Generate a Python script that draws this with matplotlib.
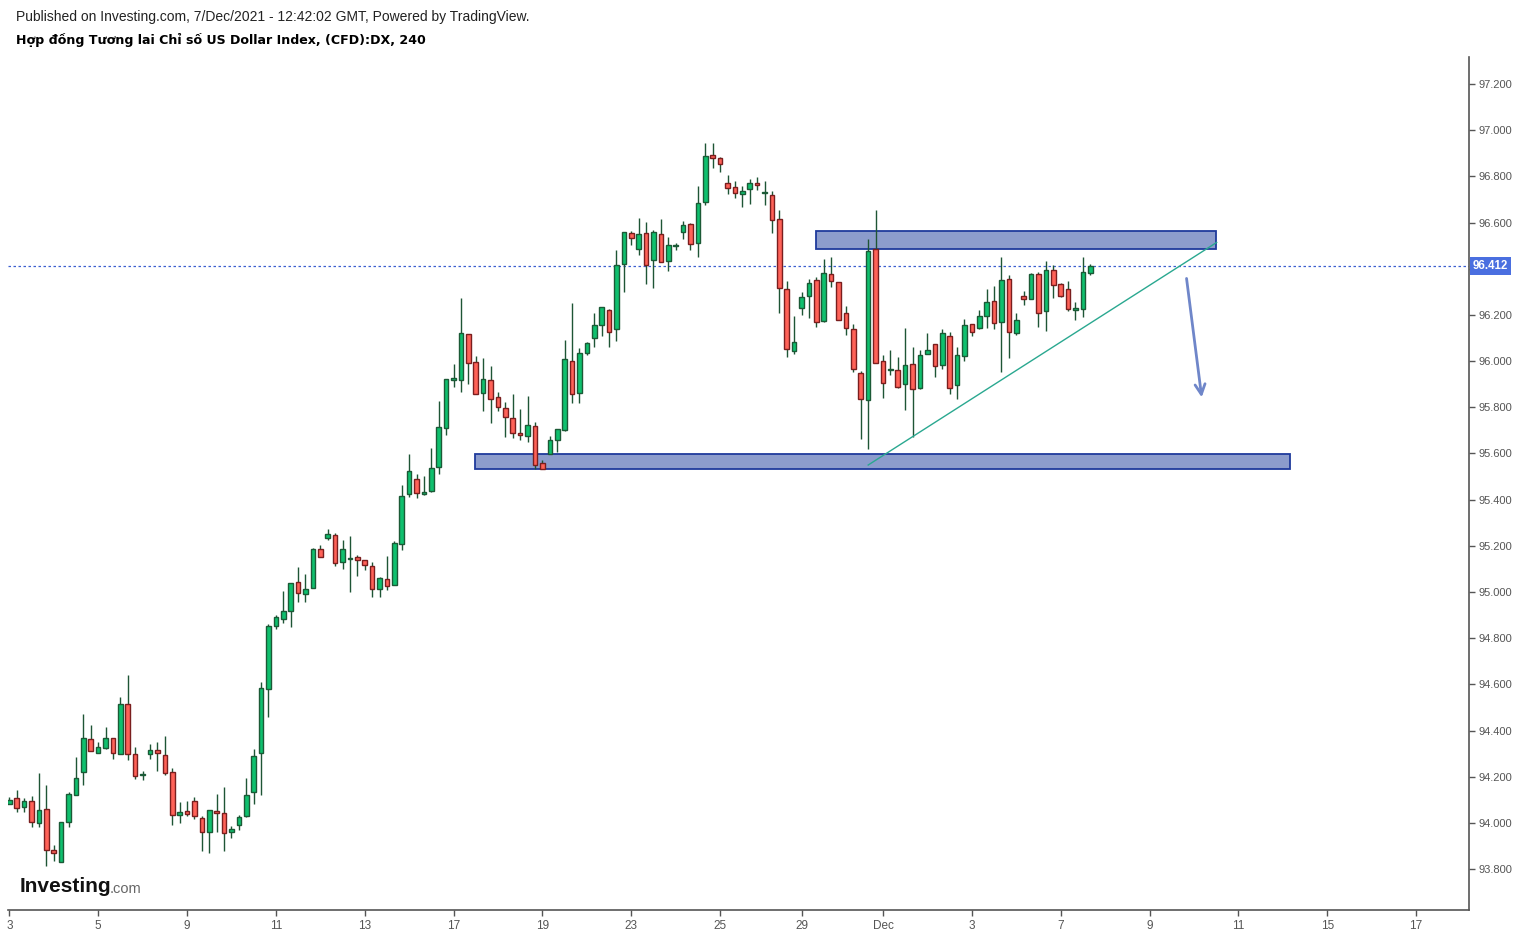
import matplotlib
matplotlib.use("Agg")
import matplotlib.pyplot as plt
from matplotlib.patches import Rectangle
from matplotlib.transforms import blended_transform_factory

# 4h candles, US Dollar Index futures, 3 Nov - 7 Dec 2021
opens = [94.080, 94.106, 94.067, 94.093, 93.998, 94.059, 93.885, 93.829, 94.002, 94.119,
         94.219, 94.362, 94.305, 94.323, 94.366, 94.297, 94.513, 94.297, 94.209, 94.297,
         94.314, 94.293, 94.219, 94.033, 94.050, 94.093, 94.020, 93.960, 94.047, 94.045,
         93.960, 93.990, 94.028, 94.132, 94.301, 94.578, 94.851, 94.882, 94.916, 95.042,
         94.990, 95.016, 95.185, 95.232, 95.245, 95.128, 95.143, 95.150, 95.137, 95.111,
         95.011, 95.055, 95.029, 95.206, 95.423, 95.488, 95.423, 95.436, 95.540, 95.709,
         95.917, 95.917, 96.116, 95.995, 95.860, 95.917, 95.843, 95.795, 95.752, 95.687,
         95.674, 95.717, 95.557, 95.596, 95.657, 95.700, 95.999, 95.860, 96.034, 96.099,
         96.155, 96.220, 96.137, 96.419, 96.553, 96.484, 96.553, 96.436, 96.549, 96.432,
         96.497, 96.558, 96.592, 96.510, 96.687, 96.891, 96.878, 96.770, 96.753, 96.722,
         96.744, 96.770, 96.727, 96.718, 96.614, 96.311, 96.042, 96.228, 96.280, 96.350,
         96.172, 96.376, 96.341, 96.207, 96.138, 95.947, 95.830, 96.484, 95.999, 95.960,
         95.960, 95.899, 95.986, 95.882, 96.029, 96.073, 95.982, 96.107, 95.895, 96.021,
         96.159, 96.142, 96.194, 96.259, 96.168, 96.354, 96.120, 96.280, 96.267, 96.376,
         96.215, 96.393, 96.332, 96.311, 96.223, 96.224, 96.380]
highs = [94.114, 94.142, 94.109, 94.116, 94.215, 94.163, 93.903, 94.005, 94.132, 94.284,
         94.472, 94.422, 94.349, 94.414, 94.366, 94.544, 94.640, 94.331, 94.223, 94.344,
         94.349, 94.375, 94.236, 94.089, 94.093, 94.111, 94.030, 94.058, 94.125, 94.155,
         93.985, 94.033, 94.194, 94.320, 94.610, 94.860, 94.899, 95.004, 95.040, 95.107,
         95.076, 95.189, 95.202, 95.271, 95.254, 95.224, 95.241, 95.159, 95.137, 95.128,
         95.063, 95.154, 95.219, 95.462, 95.596, 95.510, 95.501, 95.622, 95.826, 95.921,
         95.986, 96.272, 96.116, 96.021, 96.012, 95.978, 95.865, 95.821, 95.856, 95.791,
         95.847, 95.735, 95.570, 95.674, 95.705, 96.090, 96.250, 96.055, 96.081, 96.207,
         96.233, 96.224, 96.480, 96.558, 96.562, 96.618, 96.601, 96.566, 96.614, 96.536,
         96.510, 96.605, 96.597, 96.757, 96.943, 96.943, 96.882, 96.804, 96.779, 96.757,
         96.787, 96.796, 96.779, 96.735, 96.653, 96.345, 96.194, 96.298, 96.354, 96.363,
         96.441, 96.449, 96.341, 96.237, 96.159, 95.956, 96.527, 96.653, 96.025, 96.047,
         96.016, 96.142, 96.061, 96.047, 96.120, 96.073, 96.138, 96.125, 96.060, 96.181,
         96.159, 96.220, 96.311, 96.324, 96.449, 96.371, 96.207, 96.302, 96.380, 96.384,
         96.432, 96.415, 96.337, 96.345, 96.254, 96.449, 96.419]
lows = [94.080, 94.048, 94.048, 93.981, 93.981, 93.815, 93.836, 93.829, 93.984, 94.119,
        94.165, 94.310, 94.305, 94.319, 94.278, 94.297, 94.271, 94.189, 94.184, 94.275,
        94.227, 94.206, 93.989, 93.998, 94.028, 94.015, 93.880, 93.870, 93.960, 93.880,
        93.935, 93.970, 94.024, 94.083, 94.122, 94.460, 94.838, 94.864, 94.847, 94.955,
        94.955, 95.016, 95.150, 95.224, 95.111, 95.098, 94.998, 95.068, 95.094, 94.977,
        94.977, 95.007, 95.029, 95.180, 95.410, 95.406, 95.419, 95.432, 95.510, 95.678,
        95.886, 95.865, 95.899, 95.856, 95.782, 95.730, 95.782, 95.673, 95.665, 95.657,
        95.648, 95.531, 95.531, 95.596, 95.605, 95.696, 95.817, 95.817, 96.025, 96.060,
        96.107, 96.060, 96.086, 96.301, 96.501, 96.458, 96.335, 96.318, 96.428, 96.389,
        96.480, 96.527, 96.480, 96.449, 96.674, 96.835, 96.817, 96.722, 96.705, 96.666,
        96.679, 96.739, 96.675, 96.553, 96.207, 96.016, 96.029, 96.198, 96.185, 96.146,
        96.168, 96.319, 96.176, 96.112, 95.951, 95.661, 95.618, 95.990, 95.839, 95.938,
        95.882, 95.787, 95.670, 95.878, 96.029, 95.930, 95.964, 95.856, 95.834, 95.999,
        96.107, 96.138, 96.142, 96.138, 95.951, 96.012, 96.111, 96.241, 96.267, 96.146,
        96.129, 96.272, 96.276, 96.215, 96.176, 96.190, 96.371]
closes = [94.099, 94.063, 94.093, 94.002, 94.054, 93.881, 93.872, 94.002, 94.124, 94.193,
          94.366, 94.310, 94.327, 94.370, 94.301, 94.513, 94.297, 94.202, 94.209, 94.314,
          94.301, 94.215, 94.033, 94.046, 94.037, 94.028, 93.960, 94.054, 94.045, 93.956,
          93.975, 94.025, 94.119, 94.288, 94.583, 94.855, 94.894, 94.920, 95.037, 94.994,
          95.011, 95.185, 95.150, 95.250, 95.124, 95.185, 95.143, 95.137, 95.115, 95.011,
          95.059, 95.024, 95.211, 95.414, 95.523, 95.427, 95.432, 95.536, 95.713, 95.921,
          95.925, 96.120, 95.990, 95.856, 95.921, 95.834, 95.800, 95.756, 95.687, 95.678,
          95.722, 95.548, 95.531, 95.657, 95.705, 96.008, 95.856, 96.034, 96.077, 96.155,
          96.233, 96.124, 96.415, 96.558, 96.532, 96.549, 96.415, 96.558, 96.428, 96.501,
          96.497, 96.588, 96.506, 96.683, 96.887, 96.878, 96.852, 96.748, 96.727, 96.735,
          96.770, 96.761, 96.727, 96.610, 96.315, 96.051, 96.081, 96.276, 96.337, 96.168,
          96.380, 96.345, 96.176, 96.142, 95.964, 95.834, 96.475, 95.990, 95.904, 95.960,
          95.886, 95.982, 95.878, 96.025, 96.047, 95.977, 96.120, 95.882, 96.025, 96.155,
          96.125, 96.194, 96.254, 96.163, 96.350, 96.125, 96.176, 96.267, 96.376, 96.207,
          96.393, 96.328, 96.280, 96.224, 96.223, 96.384, 96.412]

# date labels and the bar index they sit on
date_labels = ["3", "5", "9", "11", "13", "17", "19", "23", "25", "29", "Dec",
               "3", "7", "9", "11", "15", "17"]
date_bars = [0, 12, 24, 36, 48, 60, 72, 84, 96, 107, 118, 130, 142, 154, 166, 178, 190]

last_price = 96.412

# drawn zones: (start bar, end bar, low price, high price)
resistance_zone = (108.95, 163.0, 96.485, 96.563)
support_zone = (62.9, 173.0, 95.533, 95.598)
trend_line = ([116.0, 163.07], [95.550, 96.514])
arrow_from = (159.0, 96.358)
arrow_to = (161.05, 95.843)

green, green_edge = "#0fc06e", "#1b5a36"
red, red_edge = "#ff6258", "#7a1e1e"
wick_color = "#1e5535"
axis_color = "#555555"

W, H = 1521, 934
fig = plt.figure(figsize=(W / 100, H / 100), dpi=100)
ax = fig.add_axes([8 / W, 1 - 910 / H, (1469 - 8) / W, (910 - 57) / H])

x = list(range(len(opens)))
up = [c >= o for o, c in zip(opens, closes)]

ax.vlines(x, lows, highs, color=wick_color, lw=1, zorder=3)
bottoms = [min(o, c) for o, c in zip(opens, closes)]
heights = [max(abs(c - o), 0.005) for o, c in zip(opens, closes)]
ax.bar(x, heights, bottom=bottoms, width=0.62,
       color=[green if u else red for u in up],
       edgecolor=[green_edge if u else red_edge for u in up],
       linewidth=1, zorder=4)

# zones
for x0, x1, y0, y1 in (resistance_zone, support_zone):
    ax.add_patch(Rectangle((x0, y0), x1 - x0, y1 - y0, facecolor="#8c9ccc",
                           edgecolor="#1f3a9c", linewidth=1.3, zorder=2))

ax.plot(trend_line[0], trend_line[1], color="#2aa890", lw=1, zorder=5)
ax.annotate("", xy=arrow_to, xytext=arrow_from,
            arrowprops=dict(arrowstyle="->", color="#6f86c9", lw=2,
                            mutation_scale=18, shrinkA=0, shrinkB=0), zorder=5)

# last price line + label
ax.axhline(last_price, color="#3b5fd0", lw=0.9, ls=(0, (2, 2)), zorder=1)
trans = blended_transform_factory(ax.transAxes, ax.transData)
ax.text(1.0025, last_price, f"{last_price:.3f}", transform=trans, ha="left", va="center",
        color="white", fontsize=8.3, fontweight="bold", family="Liberation Sans",
        bbox=dict(boxstyle="square,pad=0.22", facecolor="#4a6fe0", edgecolor="none"),
        zorder=6, clip_on=False)

ax.set_xlim(-0.18, 197.15)
ax.set_ylim(93.623, 97.317)

yt = [93.8 + 0.2 * i for i in range(18)]
ax.yaxis.tick_right()
ax.set_yticks(yt)
# the 96.400 label sits under the last-price tag, as in the original
ax.set_yticklabels(["" if abs(v - 96.4) < 1e-6 else f"{v:.3f}" for v in yt])
ax.set_xticks(date_bars)
ax.set_xticklabels(date_labels)

for s in ("top", "left"):
    ax.spines[s].set_visible(False)
for s in ("right", "bottom"):
    ax.spines[s].set_color(axis_color)
    ax.spines[s].set_linewidth(1.2)
ax.tick_params(axis="both", length=4, color=axis_color, labelcolor=axis_color, width=1)
ax.tick_params(axis="y", pad=3)
ax.tick_params(axis="x", pad=3)
for lbl in ax.get_yticklabels():
    lbl.set_family("Liberation Sans")
    lbl.set_fontsize(8)
for lbl in ax.get_xticklabels():
    lbl.set_family(["Liberation Sans Narrow", "Liberation Sans"])
    lbl.set_fontsize(8.5)

# header
fig.text(16 / W, 1 - 17 / H,
         "Published on Investing.com, 7/Dec/2021 - 12:42:02 GMT, Powered by TradingView.",
         family="Liberation Sans", fontsize=10, va="center", color="#222222")
fig.text(16 / W, 1 - 40 / H, "Hợp đồng Tương lai Chỉ số US Dollar Index, (CFD):DX, 240",
         family="DejaVu Sans", fontweight="bold", fontsize=9.1, va="center", color="black")

# logo: ".com" placed right after the measured width of "Investing"
logo = fig.text(20 / W, 1 - 887 / H, "Investing",
                family=["Liberation Sans Narrow", "Liberation Sans"],
                fontweight="bold", fontsize=15, va="center", color="#111111")
renderer = fig.canvas.get_renderer()
logo_right = logo.get_window_extent(renderer).x1
fig.text((logo_right - 2) / W, 1 - 889 / H, ".com",
         family=["Liberation Sans Narrow", "Liberation Sans"],
         fontsize=10.5, va="center", color="#666666")

fig.savefig("out.png", dpi=100, facecolor="white")
